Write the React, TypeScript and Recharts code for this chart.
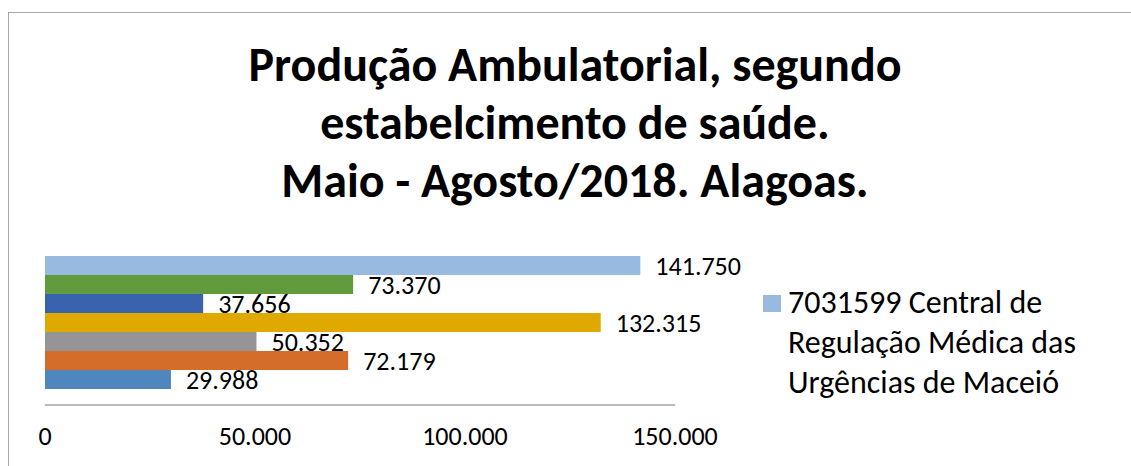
import { BarChart, Bar, XAxis, YAxis, LabelList } from 'recharts'

// valores por estabelecimento (ordem do Excel: de baixo para cima)
const categorias = ['Maio - Agosto/2018']
const serie1 = [29988]
const serie2 = [72179]
const serie3 = [50352]
const serie4 = [132315]
const serie5 = [37656]
const serie6 = [73370]
const serie7 = [141750]
const ticksX = [0, 50000, 100000, 150000]
const tituloLinhas = [
  'Produção Ambulatorial, segundo',
  'estabelcimento de saúde.',
  'Maio - Agosto/2018. Alagoas.',
]
const legendaLinhas = ['7031599 Central de', 'Regulação Médica das', 'Urgências de Maceió']

const series = [
  { key: 's1', valores: serie1, cor: '#4f86bd' },
  { key: 's2', valores: serie2, cor: '#d46c2a' },
  { key: 's3', valores: serie3, cor: '#959595' },
  { key: 's4', valores: serie4, cor: '#e0a900' },
  { key: 's5', valores: serie5, cor: '#3a63ad' },
  { key: 's6', valores: serie6, cor: '#629a3e' },
  { key: 's7', valores: serie7, cor: '#98b9e0' },
]

const dados = categorias.map((c, i) => {
  const linha: Record<string, string | number> = { categoria: c }
  series.forEach(s => { linha[s.key] = s.valores[i] })
  return linha
})

const fmt = (v: number) => Number(v).toLocaleString('pt-BR')
const FONTE = 'Carlito, Lato, sans-serif'

export default function App() {
  return (
    <div style={{
      position: 'fixed', left: 0, top: 0, width: 1131, height: 466,
      background: '#fff', overflow: 'hidden', fontFamily: FONTE,
    }}>
      {/* moldura do gráfico */}
      <div style={{
        position: 'absolute', left: 8, top: 12, width: 1200, height: 500,
        border: '1.5px solid #a6a6a6', boxSizing: 'border-box',
      }} />

      {tituloLinhas.map((t, i) => (
        <div key={t} style={{
          position: 'absolute', left: 0, width: 1150, top: 36 + i * 58,
          textAlign: 'center', fontSize: 48, fontWeight: 700, color: '#000',
          lineHeight: '58px', whiteSpace: 'nowrap',
        }}>{t}</div>
      ))}

      <div style={{ position: 'absolute', left: 0, top: 0 }}>
        <BarChart
          width={1131} height={466} data={dados} layout="vertical"
          margin={{ top: 243, right: 456, bottom: 21, left: 45 }}
          barGap={0} barCategoryGap={13}
        >
          <XAxis
            type="number" domain={[0, 150000]} ticks={ticksX} tickFormatter={fmt}
            height={40} tickLine={false} tickMargin={16}
            axisLine={{ stroke: '#a6a6a6', strokeWidth: 1.5 }}
            tick={{ fontSize: 26, fill: '#000', fontFamily: FONTE }}
            interval={0}
          />
          <YAxis type="category" dataKey="categoria" hide width={0} />
          {[...series].reverse().map(s => (
            <Bar key={s.key} dataKey={s.key} fill={s.cor} isAnimationActive={false}>
              <LabelList
                dataKey={s.key} position="right" offset={15} formatter={(v: any) => fmt(v)}
                style={{ fontSize: 26, fill: '#000', fontFamily: FONTE }}
              />
            </Bar>
          ))}
        </BarChart>
      </div>

      {/* legenda: só a última série aparece */}
      <div style={{ position: 'absolute', left: 763, top: 295, width: 18, height: 17, background: '#98b9e0' }} />
      {legendaLinhas.map((t, i) => (
        <div key={t} style={{
          position: 'absolute', left: 788, top: 283 + i * 40, fontSize: 32,
          lineHeight: '40px', color: '#000', whiteSpace: 'nowrap',
        }}>{t}</div>
      ))}
    </div>
  )
}
